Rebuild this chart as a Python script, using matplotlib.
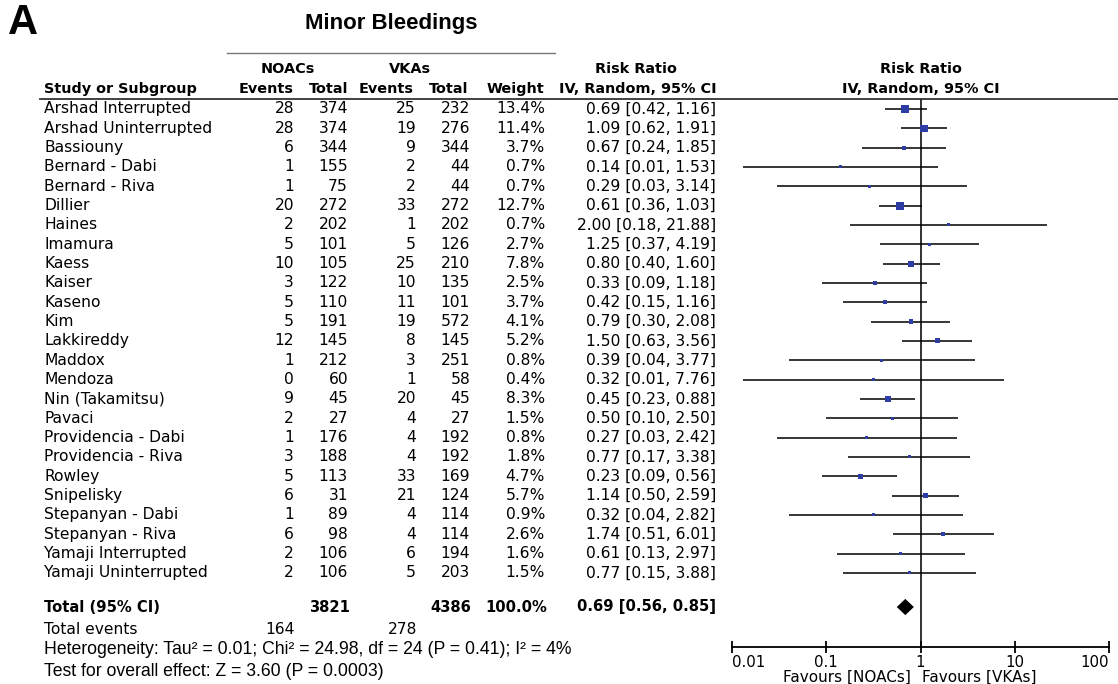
import numpy as np
import matplotlib.pyplot as plt
from matplotlib.lines import Line2D

#== data ==#
studies = ['Arshad Interrupted', 'Arshad Uninterrupted', 'Bassiouny', 'Bernard - Dabi',
           'Bernard - Riva', 'Dillier', 'Haines', 'Imamura', 'Kaess', 'Kaiser', 'Kaseno',
           'Kim', 'Lakkireddy', 'Maddox', 'Mendoza', 'Nin (Takamitsu)', 'Pavaci',
           'Providencia - Dabi', 'Providencia - Riva', 'Rowley', 'Snipelisky',
           'Stepanyan - Dabi', 'Stepanyan - Riva', 'Yamaji Interrupted', 'Yamaji Uninterrupted']
noac_events = [28, 28, 6, 1, 1, 20, 2, 5, 10, 3, 5, 5, 12, 1, 0, 9, 2, 1, 3, 5, 6, 1, 6, 2, 2]
noac_total = [374, 374, 344, 155, 75, 272, 202, 101, 105, 122, 110, 191, 145, 212, 60, 45,
              27, 176, 188, 113, 31, 89, 98, 106, 106]
vka_events = [25, 19, 9, 2, 2, 33, 1, 5, 25, 10, 11, 19, 8, 3, 1, 20, 4, 4, 4, 33, 21, 4, 4, 6, 5]
vka_total = [232, 276, 344, 44, 44, 272, 202, 126, 210, 135, 101, 572, 145, 251, 58, 45,
             27, 192, 192, 169, 124, 114, 114, 194, 203]
weight = [13.4, 11.4, 3.7, 0.7, 0.7, 12.7, 0.7, 2.7, 7.8, 2.5, 3.7, 4.1, 5.2, 0.8, 0.4, 8.3,
          1.5, 0.8, 1.8, 4.7, 5.7, 0.9, 2.6, 1.6, 1.5]
rr = [0.69, 1.09, 0.67, 0.14, 0.29, 0.61, 2.00, 1.25, 0.80, 0.33, 0.42, 0.79, 1.50, 0.39,
      0.32, 0.45, 0.50, 0.27, 0.77, 0.23, 1.14, 0.32, 1.74, 0.61, 0.77]
rr_lo = [0.42, 0.62, 0.24, 0.013, 0.03, 0.36, 0.18, 0.37, 0.40, 0.09, 0.15, 0.30, 0.63, 0.04,
         0.013, 0.23, 0.10, 0.03, 0.17, 0.09, 0.50, 0.04, 0.51, 0.13, 0.15]
rr_hi = [1.16, 1.91, 1.85, 1.53, 3.14, 1.03, 21.88, 4.19, 1.60, 1.18, 1.16, 2.08, 3.56, 3.77,
         7.76, 0.88, 2.50, 2.42, 3.38, 0.56, 2.59, 2.82, 6.01, 2.97, 3.88]
total_rr, total_lo, total_hi = 0.69, 0.56, 0.85
total_noac, total_vka = 3821, 4386
total_weight = 100.0
events_noac, events_vka = 164, 278
heterogeneity = 'Heterogeneity: Tau² = 0.01; Chi² = 24.98, df = 24 (P = 0.41); I² = 4%'
overall = 'Test for overall effect: Z = 3.60 (P = 0.0003)'
ticks = [0.01, 0.1, 1, 10, 100]
tick_labels = ['0.01', '0.1', '1', '10', '100']

W, H = 1118, 684
row0, dy = 109, 19.33          # pixel y of first row, row spacing


def ry(px):
    # pixel y -> row units
    return (px - row0) / dy


fig = plt.figure(figsize=(W / 100, H / 100), dpi=100)

#== table axes (x in pixels, y in rows) ==#
tab = fig.add_axes([0, 0, 1, 1])
tab.set_xlim(0, W)
tab.set_ylim(ry(H), ry(0))
tab.axis('off')

fs = 11.2
fam = 'DejaVu Sans'
fam2 = 'Liberation Sans'

tab.text(8, ry(23), 'A', fontsize=30, fontweight='bold', family=fam2, va='center')
tab.text(391, ry(24), 'Minor Bleedings', fontsize=16, fontweight='bold', family=fam2,
         ha='center', va='center')
tab.add_line(Line2D([227, 555], [ry(53), ry(53)], color='#777777', lw=1))
tab.add_line(Line2D([40, W], [ry(99), ry(99)], color='#333333', lw=1.3))

hd = dict(fontsize=10.4, fontweight='bold', family=fam, va='center')
tab.text(288, ry(69), 'NOACs', ha='center', **hd)
tab.text(410, ry(69), 'VKAs', ha='center', **hd)
tab.text(636, ry(69), 'Risk Ratio', ha='center', **hd)
tab.text(921, ry(69), 'Risk Ratio', ha='center', **hd)
tab.text(44, ry(89), 'Study or Subgroup', ha='left', **hd)
tab.text(294, ry(89), 'Events', ha='right', **hd)
tab.text(348, ry(89), 'Total', ha='right', **hd)
tab.text(414, ry(89), 'Events', ha='right', **hd)
tab.text(468, ry(89), 'Total', ha='right', **hd)
tab.text(544, ry(89), 'Weight', ha='right', **hd)
tab.text(638, ry(89), 'IV, Random, 95% CI', ha='center', **hd)
tab.text(921, ry(89), 'IV, Random, 95% CI', ha='center', **hd)

tx = dict(fontsize=fs, family=fam, va='center')
for i, name in enumerate(studies):
    tab.text(44, i, name, ha='left', **tx)
    tab.text(294, i, str(noac_events[i]), ha='right', **tx)
    tab.text(348, i, str(noac_total[i]), ha='right', **tx)
    tab.text(416, i, str(vka_events[i]), ha='right', **tx)
    tab.text(470, i, str(vka_total[i]), ha='right', **tx)
    tab.text(545, i, f'{weight[i]:.1f}%', ha='right', **tx)
    tab.text(716, i, f'{rr[i]:.2f} [{rr_lo[i]:.2f}, {rr_hi[i]:.2f}]', ha='right', **tx)

yt = ry(607)
bd = dict(fontsize=10.6, family=fam, va='center', fontweight='bold')
tab.text(44, yt, 'Total (95% CI)', ha='left', **bd)
tab.text(350, yt, str(total_noac), ha='right', **bd)
tab.text(471, yt, str(total_vka), ha='right', **bd)
tab.text(547, yt, f'{total_weight:.1f}%', ha='right', **bd)
tab.text(716, yt, f'{total_rr:.2f} [{total_lo:.2f}, {total_hi:.2f}]', ha='right', **bd)

tab.text(44, ry(630), 'Total events', ha='left', **tx)
tab.text(295, ry(630), str(events_noac), ha='right', **tx)
tab.text(417, ry(630), str(events_vka), ha='right', **tx)
tab.text(44, ry(650), heterogeneity, ha='left', fontsize=12.7, family=fam2, va='center')
tab.text(44, ry(671), overall, ha='left', fontsize=12.7, family=fam2, va='center')

#== forest axes ==#
x0, x1, ytop, ybot = 732, 1109, 99, 647
ax = fig.add_axes([x0 / W, 1 - ybot / H, (x1 - x0) / W, (ybot - ytop) / H])
ax.patch.set_alpha(0)
ax.set_xscale('log')
ax.set_xlim(0.01, 100)
ax.set_ylim(ry(ybot), ry(ytop))
rows = np.arange(len(studies))
ax.hlines(rows, rr_lo, rr_hi, color='black', lw=1.1)
side = np.maximum(3, 8 * np.sqrt(np.array(weight) / 13.4)) * 0.72
ax.scatter(rr, rows, marker='s', s=side ** 2, color='#2e3da6', lw=0, zorder=3)
dh = 0.42
ax.fill([total_lo, total_rr, total_hi, total_rr], [yt, yt - dh, yt, yt + dh],
        color='black', lw=0, zorder=3)
ax.axvline(1, color='#222222', lw=1.3, zorder=1)
for s in ['top', 'right', 'left']:
    ax.spines[s].set_visible(False)
ax.spines['bottom'].set_linewidth(1.3)
ax.set_yticks([])
ax.set_xticks(ticks)
ax.set_xticklabels(tick_labels)
ax.minorticks_off()
ax.tick_params(axis='x', direction='inout', length=9, width=1.3, labelsize=10.8, pad=1)
labs = ax.get_xticklabels()
for lab in labs:
    lab.set_family(fam)
labs[0].set_horizontalalignment('left')
labs[-1].set_horizontalalignment('right')
tab.text(911, ry(677), 'Favours [NOACs]', ha='right', fontsize=11, family=fam, va='center')
tab.text(922, ry(677), 'Favours [VKAs]', ha='left', fontsize=11, family=fam, va='center')

plt.savefig('out.png', dpi=100)
